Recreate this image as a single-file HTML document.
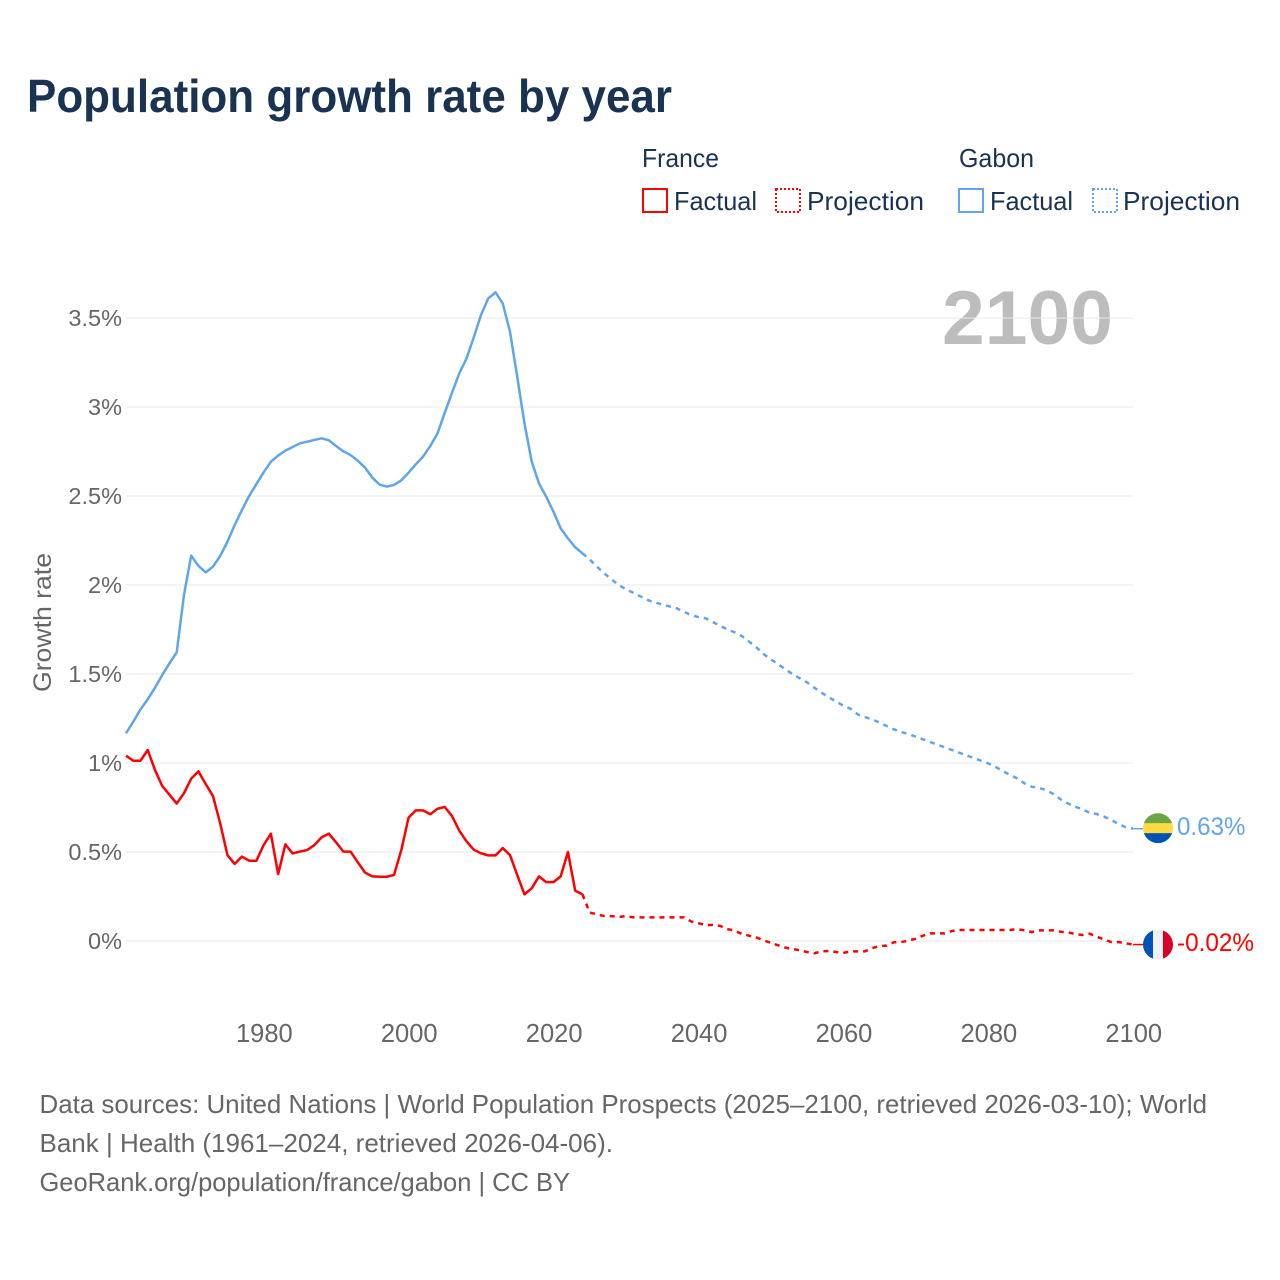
<!DOCTYPE html>
<html lang="en">
<head>
<meta charset="utf-8">
<title>Population growth rate by year</title>
<style>
  html, body { margin: 0; padding: 0; background: #fff; width: 1280px; height: 1280px; overflow: hidden; }
  svg { display: block; }
  text { font-family: "Liberation Sans", sans-serif; }
</style>
</head>
<body>
<svg id="chart" xmlns="http://www.w3.org/2000/svg" width="1280" height="1280" viewBox="0 0 1280 1280">
  <rect x="0" y="0" width="1280" height="1280" fill="#ffffff"/>
  <text x="27" y="112" font-size="46" font-weight="700" fill="#1a3353" textLength="645" lengthAdjust="spacingAndGlyphs">Population growth rate by year</text>

  <g>
    <text x="642" y="167" font-size="26" fill="#1a3353" textLength="77" lengthAdjust="spacingAndGlyphs">France</text>
    <rect x="643" y="189" width="24" height="23" fill="none" stroke="#ff0000" stroke-width="2"/>
    <text x="674" y="210" font-size="26" fill="#1a3353" textLength="83" lengthAdjust="spacingAndGlyphs">Factual</text>
    <rect x="776" y="189" width="24" height="23" fill="none" stroke="#ff0000" stroke-width="2" stroke-dasharray="2 2"/>
    <text x="807" y="210" font-size="26" fill="#1a3353" textLength="117" lengthAdjust="spacingAndGlyphs">Projection</text>
    <text x="959" y="167" font-size="26" fill="#1a3353" textLength="75" lengthAdjust="spacingAndGlyphs">Gabon</text>
    <rect x="959" y="189" width="24" height="23" fill="none" stroke="#5fa5ec" stroke-width="2"/>
    <text x="990" y="210" font-size="26" fill="#1a3353" textLength="83" lengthAdjust="spacingAndGlyphs">Factual</text>
    <rect x="1093" y="189" width="24" height="23" fill="none" stroke="#5fa5ec" stroke-width="2" stroke-dasharray="2 2"/>
    <text x="1123" y="210" font-size="26" fill="#1a3353" textLength="117" lengthAdjust="spacingAndGlyphs">Projection</text>
  </g>

  <text x="942" y="344" font-size="76" font-weight="700" fill="#bdbdbd" textLength="171" lengthAdjust="spacingAndGlyphs">2100</text>
  <g id="grid"></g>
  <g id="yticks"></g>
  <g id="xticks"></g>
  <text transform="translate(51,692) rotate(-90)" x="0" y="0" font-size="25" fill="#666666" textLength="139" lengthAdjust="spacingAndGlyphs">Growth rate</text>
  <g id="series"></g>
  <g id="ends"></g>

  <g fill="#666666" font-size="26">
    <text x="39.5" y="1113" textLength="1167.5" lengthAdjust="spacingAndGlyphs">Data sources: United Nations | World Population Prospects (2025–2100, retrieved 2026-03-10); World</text>
    <text x="39.5" y="1152" textLength="573.5" lengthAdjust="spacingAndGlyphs">Bank | Health (1961–2024, retrieved 2026-04-06).</text>
    <text x="39.5" y="1191" textLength="530.5" lengthAdjust="spacingAndGlyphs">GeoRank.org/population/france/gabon | CC BY</text>
  </g>
</svg>
<script>
const firstYear = 1961;
const firstProjectionYear = 2025;
const yTickValues = [0, 0.5, 1, 1.5, 2, 2.5, 3, 3.5];
const yTickLabels = ["0%", "0.5%", "1%", "1.5%", "2%", "2.5%", "3%", "3.5%"];
const xTickValues = [1980, 2000, 2020, 2040, 2060, 2080, 2100];
const xTickLabels = ["1980", "2000", "2020", "2040", "2060", "2080", "2100"];

const franceFactual = [
  1.041, 1.013, 1.013, 1.073, 0.961, 0.871, 0.822, 0.772, 0.830, 0.912,
  0.953, 0.882, 0.815, 0.661, 0.483, 0.433, 0.474, 0.451, 0.451, 0.539,
  0.603, 0.376, 0.543, 0.492, 0.502, 0.511, 0.539, 0.582, 0.603, 0.554,
  0.502, 0.502, 0.442, 0.384, 0.363, 0.361, 0.361, 0.371, 0.511, 0.693,
  0.734, 0.734, 0.712, 0.743, 0.753, 0.702, 0.620, 0.560, 0.513, 0.493,
  0.481, 0.481, 0.522, 0.483, 0.371, 0.262, 0.296, 0.363, 0.331, 0.331,
  0.363, 0.500, 0.283, 0.262
];
const franceProjection = [
  0.16, 0.15, 0.14, 0.14, 0.135, 0.14, 0.133, 0.133, 0.133, 0.133,
  0.133, 0.133, 0.133, 0.133, 0.11, 0.10, 0.09, 0.09, 0.085, 0.067,
  0.058, 0.04, 0.03, 0.02, 0.004, -0.01, -0.024, -0.037, -0.045, -0.052,
  -0.062, -0.069, -0.058, -0.056, -0.062, -0.067, -0.058, -0.058, -0.058, -0.04,
  -0.028, -0.026, -0.007, -0.006, 0.002, 0.013, 0.03, 0.043, 0.043, 0.043,
  0.056, 0.062, 0.062, 0.062, 0.062, 0.062, 0.062, 0.062, 0.062, 0.067,
  0.06, 0.05, 0.06, 0.06, 0.06, 0.052, 0.049, 0.039, 0.034, 0.041,
  0.024, 0.009, -0.006, -0.006, -0.013, -0.02
];
const gabonFactual = [
  1.167, 1.232, 1.301, 1.358, 1.423, 1.494, 1.56, 1.622, 1.944, 2.165,
  2.107, 2.071, 2.103, 2.163, 2.243, 2.337, 2.421, 2.5, 2.567, 2.633,
  2.693, 2.727, 2.755, 2.775, 2.796, 2.805, 2.815, 2.824, 2.813, 2.781,
  2.751, 2.73, 2.698, 2.659, 2.603, 2.564, 2.553, 2.562, 2.588, 2.631,
  2.678, 2.721, 2.781, 2.852, 2.968, 3.08, 3.189, 3.273, 3.391, 3.517,
  3.61, 3.644, 3.582, 3.423, 3.17, 2.908, 2.693, 2.571, 2.496, 2.412,
  2.318, 2.262, 2.212, 2.178
];
const gabonProjection = [
  2.144, 2.103, 2.066, 2.032, 2.0, 1.976, 1.957, 1.936, 1.916, 1.901,
  1.891, 1.88, 1.869, 1.85, 1.831, 1.82, 1.813, 1.792, 1.77, 1.751,
  1.734, 1.713, 1.682, 1.65, 1.612, 1.582, 1.556, 1.526, 1.5, 1.476,
  1.453, 1.423, 1.395, 1.369, 1.346, 1.322, 1.305, 1.273, 1.258, 1.245,
  1.227, 1.208, 1.189, 1.174, 1.163, 1.148, 1.133, 1.118, 1.103, 1.088,
  1.073, 1.058, 1.043, 1.028, 1.013, 0.998, 0.979, 0.955, 0.933, 0.914,
  0.886, 0.867, 0.86, 0.848, 0.826, 0.796, 0.773, 0.755, 0.74, 0.721,
  0.713, 0.699, 0.68, 0.657, 0.639, 0.631
];
const endLabels = ["0.63%", "-0.02%"];

const SVG_NS = "http://www.w3.org/2000/svg";
function xScale(year) { return 126 + (year - 1961) * 7.245; }
function yScale(value) { return 941 - value * 178; }
function make(tag, attrs, parent) {
  const el = document.createElementNS(SVG_NS, tag);
  for (const k in attrs) el.setAttribute(k, attrs[k]);
  parent.appendChild(el);
  return el;
}
function pathFrom(values, startYear) {
  return values.map(function (v, i) {
    return (i ? "L" : "M") + xScale(startYear + i).toFixed(2) + " " + yScale(v).toFixed(2);
  }).join(" ");
}

const gridG = document.getElementById("grid");
const yG = document.getElementById("yticks");
yTickValues.forEach(function (v, i) {
  const line = make("line", { x1: 126, x2: 1133, y1: yScale(v), y2: yScale(v), stroke: "#e8e8e8", "stroke-width": 1 }, gridG);
  
  
  const t = make("text", { x: 122, y: yScale(v) + 8, "text-anchor": "end", "font-size": 23.5, fill: "#666666" }, yG);
  t.textContent = yTickLabels[i];
  
  
});

const xG = document.getElementById("xticks");
xTickValues.forEach(function (yr, i) {
  const t = make("text", { x: xScale(yr) + 0.7, y: 1042, "text-anchor": "middle", "font-size": 25.5, fill: "#666666" }, xG);
  t.textContent = xTickLabels[i];
  
  
});

const RED = "#ff0000", BLUE = "#5fa5ec";
const seriesG = document.getElementById("series");
function drawSeries(factual, projection, color, nameA, nameB) {
  const a = make("path", { d: pathFrom(factual, firstYear), fill: "none", stroke: color, "stroke-width": 2.5, "stroke-linejoin": "round" }, seriesG);
  
  
  const joined = [factual[factual.length - 1]].concat(projection);
  const b = make("path", { d: pathFrom(joined, firstProjectionYear - 1), fill: "none", stroke: color, "stroke-width": 2.5, "stroke-dasharray": "5 5", "stroke-linejoin": "round" }, seriesG);
  
  
}
drawSeries(gabonFactual, gabonProjection, BLUE, "gabon-factual-line", "gabon-projection-line");
drawSeries(franceFactual, franceProjection, RED, "france-factual-line", "france-projection-line");

const endsG = document.getElementById("ends");
function drawEnd(prefix, value, color, label, labelWidth, stripes, vertical) {
  const cx = 1158, cy = yScale(value) + (value < 0 ? 0 : -0.5), r = 15;
  const clipId = prefix + "-clip";
  const defs = make("defs", {}, endsG);
  const clip = make("clipPath", { id: clipId }, defs);
  make("circle", { cx: cx, cy: cy, r: r }, clip);
  const conn = make("line", { x1: xScale(2100), x2: 1143, y1: yScale(value), y2: yScale(value), stroke: color, "stroke-width": 1.5 }, endsG);
  
  
  const flag = make("g", { "clip-path": "url(#" + clipId + ")" }, endsG);
  
  
  const n = stripes.length;
  stripes.forEach(function (c, i) {
    if (vertical) make("rect", { x: cx - r + i * (2 * r / n), y: cy - r, width: 2 * r / n + 0.3, height: 2 * r, fill: c }, flag);
    else make("rect", { x: cx - r, y: cy - r + i * (2 * r / n), width: 2 * r, height: 2 * r / n + 0.3, fill: c }, flag);
  });
  const t = make("text", { x: 1177, y: yScale(value) + 6.5, "font-size": 25, fill: color, textLength: labelWidth, lengthAdjust: "spacingAndGlyphs" }, endsG);
  t.textContent = label;
  
  
}
drawEnd("gabon", gabonProjection[gabonProjection.length - 1], BLUE, endLabels[0], 68.5, ["#6da544", "#ffda44", "#0052b4"], false);
drawEnd("france", franceProjection[franceProjection.length - 1], RED, endLabels[1], 77, ["#0052b4", "#f0f0f0", "#d80027"], true);
</script>
</body>
</html>
